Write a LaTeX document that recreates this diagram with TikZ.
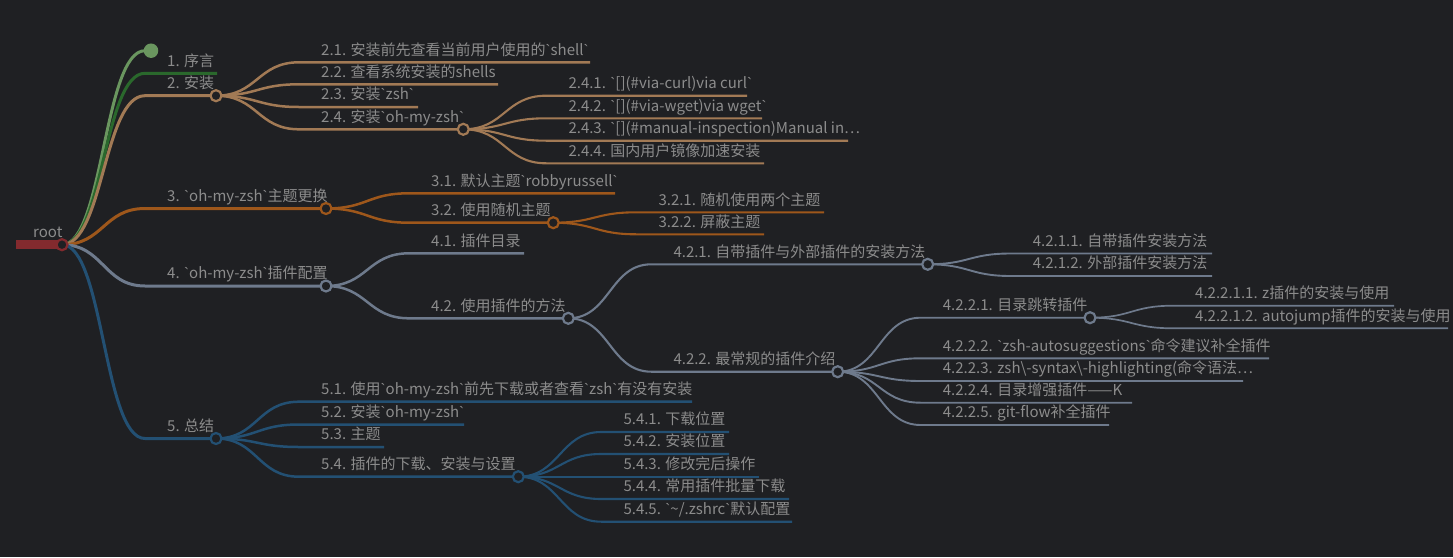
\documentclass[tikz,border=0pt]{standalone}
\usepackage{fontspec}
\usepackage{tikz}
\usetikzlibrary{calc}
\newfontfamily\mmfont{Noto Sans CJK SC}[Ligatures=TeXOff]
\newfontfamily\bqfont{Liberation Sans}[Ligatures=TeXOff]
\newcommand\bq{{\bqfont\symbol{96}}}
\definecolor{charcoal}{HTML}{1F2023}
\definecolor{ash}{HTML}{8C8C8C}
\definecolor{brick}{HTML}{832A2E}
\definecolor{fern}{HTML}{6A965F}
\definecolor{moss}{HTML}{2A682C}
\definecolor{tawny}{HTML}{A27A55}
\definecolor{rust}{HTML}{9E571B}
\definecolor{slate}{HTML}{6E7A8C}
\definecolor{harbor}{HTML}{235073}

\begin{document}
\begin{tikzpicture}[x=1pt, y=-1pt,
    lbl/.style={anchor=base west, inner sep=0pt, text=ash, font=\mmfont\fontsize{15}{18}\selectfont},
    hub/.style={circle, draw=#1, fill=charcoal, line width=2.2pt, minimum size=11pt, inner sep=0pt},
    d1/.style={line width=3pt},
    d2/.style={line width=2.5pt},
    d3/.style={line width=2.1pt},
    d4/.style={line width=1.9pt},
    d5/.style={line width=1.7pt}]

    % Background and page size
    \fill[charcoal] (0,0) rectangle (1453,557);
    \useasboundingbox (0,0) rectangle (1453,557);

    % One branch: style, parent, name, x start, y, x end, label
    \def\mmitem#1#2#3#4#5#6#7{%
        \coordinate (#3a) at (#4,#5);
        \coordinate (#3b) at (#6,#5);
        \node[lbl] (#3) at (#4+22,#5-7.3) {#7};
        \draw[#1] (#2) .. controls +(41.5,0) and +(-41.5,0) .. (#3a) -- (#3b);
    }

    % Root
    \coordinate (rootA) at (16,244.7);
    \coordinate (root) at (62,244.7);
    \draw[brick, line width=8.5pt] (rootA) -- (root);
    \node[lbl] (rootlbl) at (33,237.3) {root};

    % Level 1
    \mmitem{fern,d1}{root}{c0}{145}{50.7}{151}{}
    \mmitem{moss,d1}{root}{c1}{145}{73.3}{217}{1. 序言}
    \mmitem{tawny,d1}{root}{c2}{145}{95.7}{216}{2. 安装}
    \mmitem{rust,d1}{root}{c3}{145}{208.5}{326}{3. \bq{}oh-my-zsh\bq{}主题更换}
    \mmitem{slate,d1}{root}{c4}{145}{286}{326}{4. \bq{}oh-my-zsh\bq{}插件配置}
    \mmitem{harbor,d1}{root}{c5}{145}{438.5}{216}{5. 总结}

    % 2. install
    \mmitem{tawny,d2}{c2b}{n21}{299}{62.3}{590}{2.1. 安装前先查看当前用户使用的\bq{}shell\bq{}}
    \mmitem{tawny,d2}{c2b}{n22}{299}{84.3}{498}{2.2. 查看系统安装的shells}
    \mmitem{tawny,d2}{c2b}{n23}{299}{107}{418}{2.3. 安装\bq{}zsh\bq{}}
    \mmitem{tawny,d2}{c2b}{n24}{299}{129.3}{463.3}{2.4. 安装\bq{}oh-my-zsh\bq{}}
    \mmitem{tawny,d3}{n24b}{n241}{546.3}{95.7}{747}{2.4.1. \bq{}[](\#via-curl)via curl\bq{}}
    \mmitem{tawny,d3}{n24b}{n242}{546.3}{118.3}{762}{2.4.2. \bq{}[](\#via-wget)via wget\bq{}}
    \mmitem{tawny,d3}{n24b}{n243}{546.3}{140.7}{848}{2.4.3. \bq{}[](\#manual-inspection)Manual in…}
    \mmitem{tawny,d3}{n24b}{n244}{546.3}{163.3}{764}{2.4.4. 国内用户镜像加速安装}

    % 3. themes
    \mmitem{rust,d2}{c3b}{n31}{409}{193.3}{615}{3.1. 默认主题\bq{}robbyrussell\bq{}}
    \mmitem{rust,d2}{c3b}{n32}{409}{222.7}{553.3}{3.2. 使用随机主题}
    \mmitem{rust,d3}{n32b}{n321}{636.3}{212.3}{824}{3.2.1. 随机使用两个主题}
    \mmitem{rust,d3}{n32b}{n322}{636.3}{234.3}{764}{3.2.2. 屏蔽主题}

    % 4. plugins
    \mmitem{slate,d2}{c4b}{n41}{409}{253.3}{524}{4.1. 插件目录}
    \mmitem{slate,d2}{c4b}{n42}{409}{318.3}{568.3}{4.2. 使用插件的方法}
    \mmitem{slate,d3}{n42b}{n421}{651.3}{264.3}{927.7}{4.2.1. 自带插件与外部插件的安装方法}
    \mmitem{slate,d3}{n42b}{n422}{651.3}{371.7}{837.7}{4.2.2. 最常规的插件介绍}
    \mmitem{slate,d4}{n421b}{n4211}{1010.7}{253.5}{1212}{4.2.1.1. 自带插件安装方法}
    \mmitem{slate,d4}{n421b}{n4212}{1010.7}{276}{1212}{4.2.1.2. 外部插件安装方法}
    \mmitem{slate,d4}{n422b}{n4221}{920.7}{317.7}{1090}{4.2.2.1. 目录跳转插件}
    \mmitem{slate,d4}{n422b}{n4222}{920.7}{358.3}{1269}{4.2.2.2. \bq{}zsh-autosuggestions\bq{}命令建议补全插件}
    \mmitem{slate,d4}{n422b}{n4223}{920.7}{381}{1243}{4.2.2.3. zsh\textbackslash-syntax\textbackslash-highlighting(命令语法…}
    \mmitem{slate,d4}{n422b}{n4224}{920.7}{402.7}{1132}{4.2.2.4. 目录增强插件——K}
    \mmitem{slate,d4}{n422b}{n4225}{920.7}{425}{1109}{4.2.2.5. git-flow补全插件}
    \mmitem{slate,d5}{n4221b}{n42211}{1173}{305.7}{1394}{4.2.2.1.1. z插件的安装与使用}
    \mmitem{slate,d5}{n4221b}{n42212}{1173}{328.3}{1448}{4.2.2.1.2. autojump插件的安装与使用}

    % 5. summary
    \mmitem{harbor,d2}{c5b}{n51}{299}{401.7}{692}{5.1. 使用\bq{}oh-my-zsh\bq{}前先下载或者查看\bq{}zsh\bq{}有没有安装}
    \mmitem{harbor,d2}{c5b}{n52}{299}{424.5}{464}{5.2. 安装\bq{}oh-my-zsh\bq{}}
    \mmitem{harbor,d2}{c5b}{n53}{299}{447}{384}{5.3. 主题}
    \mmitem{harbor,d2}{c5b}{n54}{299}{476.7}{518.3}{5.4. 插件的下载、安装与设置}
    \mmitem{harbor,d3}{n54b}{n541}{601.3}{432}{729}{5.4.1. 下载位置}
    \mmitem{harbor,d3}{n54b}{n542}{601.3}{454}{729}{5.4.2. 安装位置}
    \mmitem{harbor,d3}{n54b}{n543}{601.3}{476.7}{759}{5.4.3. 修改完后操作}
    \mmitem{harbor,d3}{n54b}{n544}{601.3}{499}{789}{5.4.4. 常用插件批量下载}
    \mmitem{harbor,d3}{n54b}{n545}{601.3}{521.7}{792}{5.4.5. \bq{}\textasciitilde/.zshrc\bq{}默认配置}

    % Circles on the branch points
    \node[hub=brick] (roothub) at (root) {};
    \node[circle, fill=fern, minimum size=14.5pt, inner sep=0pt] (c0hub) at (c0b) {};
    \node[hub=tawny] (c2hub) at (c2b) {};
    \node[hub=tawny] (n24hub) at (n24b) {};
    \node[hub=rust] (c3hub) at (c3b) {};
    \node[hub=rust] (n32hub) at (n32b) {};
    \node[hub=slate] (c4hub) at (c4b) {};
    \node[hub=slate] (n42hub) at (n42b) {};
    \node[hub=slate] (n421hub) at (n421b) {};
    \node[hub=slate] (n422hub) at (n422b) {};
    \node[hub=slate] (n4221hub) at (n4221b) {};
    \node[hub=harbor] (c5hub) at (c5b) {};
    \node[hub=harbor] (n54hub) at (n54b) {};

\end{tikzpicture}
\end{document}
